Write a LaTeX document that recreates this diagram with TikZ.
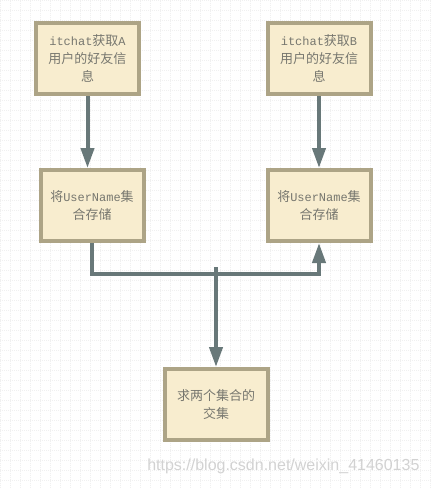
\documentclass[tikz,border=0pt]{standalone}
\usepackage{fontspec}
\usepackage{xcolor}
\usetikzlibrary{arrows.meta,positioning}
\setmainfont{Noto Sans CJK SC}
\newfontfamily\cjk{Noto Sans CJK SC}
\newfontfamily\mono[Scale=0.92]{Liberation Mono}
\newfontfamily\wmfont{Liberation Sans}
\definecolor{boxfill}{HTML}{F8EDCF}
\definecolor{boxline}{HTML}{ADA486}
\definecolor{flowline}{HTML}{687879}
\definecolor{boxtext}{HTML}{77776F}

\begin{document}
\begin{tikzpicture}[x=1pt, y=-1pt,
    box/.style={draw=boxline, fill=boxfill, line width=4pt, minimum width=103pt,
        minimum height=71pt, inner sep=0pt, align=center, text=boxtext,
        font=\fontsize{13}{18}\selectfont},
    flow/.style={draw=flowline, line width=4pt, -{Triangle[length=20pt, width=13pt]}}]
    % Background
    \useasboundingbox (0,0) rectangle (432,488);
    \fill[white] (0,0) rectangle (432,488);
    \draw[gray!12, line width=0.6pt, dash pattern=on 1pt off 1pt, step=10pt] (0,0) grid (432,488);

    % Nodes
    \node[box] (getA) at (87.5,58.5) {\mono itchat\cjk 获取\mono A\\\cjk 用户的好友信\\\cjk 息};
    \node[box] (getB) at (319,58.5) {\mono itchat\cjk 获取\mono B\\\cjk 用户的好友信\\\cjk 息};
    \node[box] (saveA) at (92,205.5) {\cjk 将\mono UserName\cjk 集\\\cjk 合存储};
    \node[box] (saveB) at (319,205.5) {\cjk 将\mono UserName\cjk 集\\\cjk 合存储};
    \node[box] (inter) at (216,404.5) {求两个集合的\\交集};
    \coordinate (join) at (216,267);

    % Arrows
    \draw[flow] (getA.south) -- (getA.south |- saveA.north);
    \draw[flow] (getB.south) -- (saveB.north);
    \draw[flow] (saveA.south) -- ++(0,31) -| (saveB.south);
    \draw[flow] (join) -- (inter.north);

    % Labels
    \node[anchor=east, text=gray!35, font=\wmfont\fontsize{16}{18}\selectfont] (watermark)
        at (423,466) {https://blog.csdn.net/weixin\_41460135};
\end{tikzpicture}
\end{document}
